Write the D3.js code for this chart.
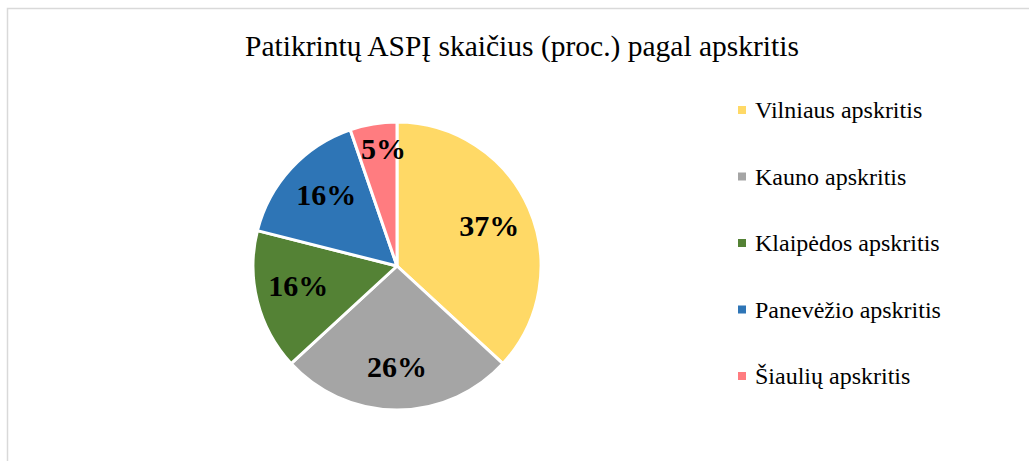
<!DOCTYPE html>
<html>
<head>
<meta charset="utf-8">
<script src="https://cdn.jsdelivr.net/npm/d3@7"></script>
<style>
  body { margin: 0; background: #fff; }
  svg { display: block; }
  text { font-family: "Liberation Serif", "DejaVu Serif", serif; }
</style>
</head>
<body>
<svg id="chart" width="1029" height="461"></svg>
<script>
// chart data
var title = "Patikrintų ASPĮ skaičius (proc.) pagal apskritis";
var categories = ["Vilniaus apskritis", "Kauno apskritis", "Klaipėdos apskritis", "Panevėžio apskritis", "Šiaulių apskritis"];
var values = [7, 5, 3, 3, 1];
var colors = ["#FFD966", "#A5A5A5", "#548235", "#2E75B6", "#FF7C80"];

var width = 1029, height = 461;
var cx = 397, cy = 266, radius = 144;
var serif = "'Liberation Serif', 'Times New Roman', serif";

var svg = d3.select("#chart");

// chart area border (runs off the right and bottom edge)
svg.append("rect")
  .attr("x", 7.5)
  .attr("y", 8.5)
  .attr("width", width + 10)
  .attr("height", height + 10)
  .attr("fill", "#fff")
  .attr("stroke", "#d9d9d9")
  .attr("stroke-width", 1.5);

svg.append("text")
  .attr("x", 522)
  .attr("y", 56)
  .attr("text-anchor", "middle")
  .attr("font-family", serif)
  .attr("font-size", 29.5)
  .attr("fill", "#000")
  .text(title);

var total = d3.sum(values);

var pie = d3.pie()
  .sort(null)
  .value(function(d) { return d; });

var arc = d3.arc()
  .innerRadius(0)
  .outerRadius(radius);

var g = svg.append("g")
  .attr("transform", "translate(" + cx + "," + cy + ")");

var arcs = pie(values);

g.selectAll("path")
  .data(arcs)
  .enter()
  .append("path")
  .attr("d", arc)
  .attr("fill", function(d, i) { return colors[i]; })
  .attr("stroke", "#fff")
  .attr("stroke-width", 3)
  .attr("stroke-linejoin", "round");

// labels: small slices get pushed further out
g.selectAll("text.lbl")
  .data(arcs)
  .enter()
  .append("text")
  .attr("class", "lbl")
  .attr("transform", function(d) {
    var f = d.data / total;
    var r = radius * (f < 0.1 ? 0.82 : 0.7);
    var a = (d.startAngle + d.endAngle) / 2 + (f < 0.2 ? 0.05 : 0);
    return "translate(" + (Math.sin(a) * r) + "," + (-Math.cos(a) * r) + ")";
  })
  .attr("text-anchor", "middle")
  .attr("dy", "0.35em")
  .attr("font-family", serif)
  .attr("font-size", 30)
  .attr("font-weight", "bold")
  .attr("fill", "#000")
  .text(function(d) { return Math.round(d.data / total * 100) + "%"; });

// legend
var legendY = d3.scalePoint()
  .domain(categories)
  .range([110, 376]);

var legend = svg.append("g");

var items = legend.selectAll("g")
  .data(categories)
  .enter()
  .append("g")
  .attr("transform", function(d) { return "translate(738," + legendY(d) + ")"; });

items.append("rect")
  .attr("x", 0)
  .attr("y", -4)
  .attr("width", 8)
  .attr("height", 8)
  .attr("fill", function(d, i) { return colors[i]; });

items.append("text")
  .attr("x", 17)
  .attr("dy", "0.35em")
  .attr("font-family", serif)
  .attr("font-size", 24)
  .attr("fill", "#000")
  .text(function(d) { return d; });
</script>
</body>
</html>
